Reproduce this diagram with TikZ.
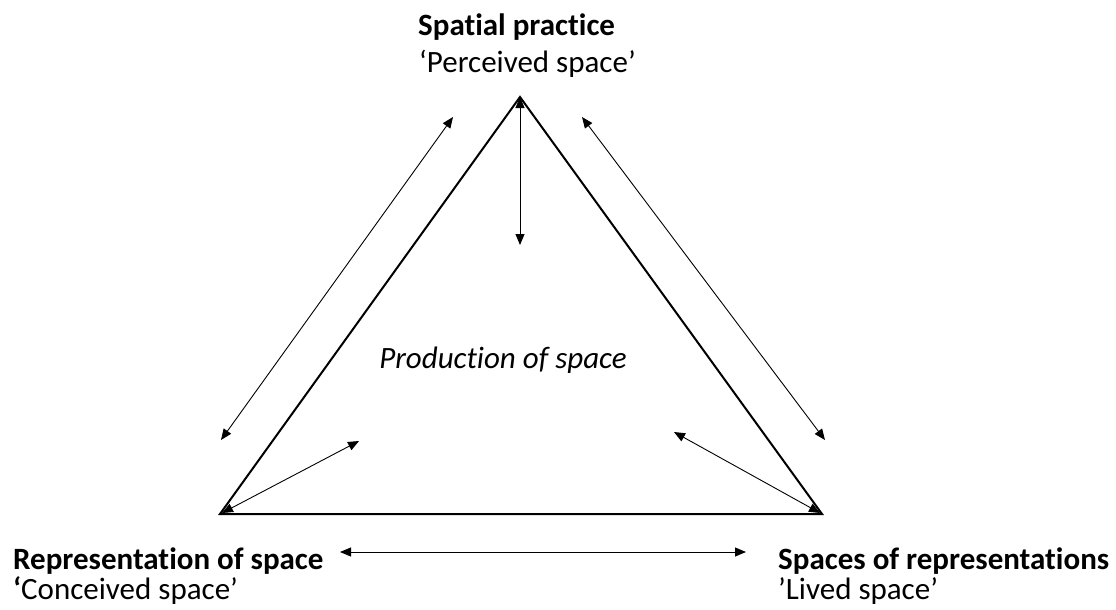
\documentclass[tikz,border=0pt]{standalone}
\usepackage{fontspec}
\setmainfont{Carlito}[Ligatures=NoCommon]
\usetikzlibrary{arrows.meta}
\begin{document}
\begin{tikzpicture}[x=1pt,y=-1pt,
  side/.style={line width=2pt,line join=miter},
  link/.style={line width=0.9pt,{Triangle[length=11pt,width=9pt]}-{Triangle[length=11pt,width=9pt]}},
  lbl/.style={anchor=base west,inner sep=0pt,font=\fontsize{31}{36}\selectfont},
  head/.style={lbl,font=\fontsize{31}{36}\selectfont\bfseries}]
\useasboundingbox (0,0) rectangle (1116,610);
% corners of the triangle
\coordinate (top) at (520,97);
\coordinate (bl) at (220,514);
\coordinate (br) at (822,514);
\draw[side] (top) -- (br) -- (bl) -- cycle;
% free ends of the connectors
\coordinate (vtop) at (520,97);
\coordinate (vbot) at (520,245);
\coordinate (lo1) at (453,117);
\coordinate (lo2) at (221,440);
\coordinate (ro1) at (582,117);
\coordinate (ro2) at (825,440);
\coordinate (li1) at (222,513);
\coordinate (li2) at (359,441);
\coordinate (ri1) at (820,513);
\coordinate (ri2) at (674,432);
\coordinate (h1) at (340,552);
\coordinate (h2) at (746,552);
\draw[link] (vtop) -- (vbot);
\draw[link] (lo1) -- (lo2);
\draw[link] (ro1) -- (ro2);
\draw[link] (li1) -- (li2);
\draw[link] (ri1) -- (ri2);
\draw[link] (h1) -- (h2);
% labels
\node[head] (sp) at (418,36) {Spatial practice};
\node[lbl] (ps) at (419,73) {‘Perceived space’};
\node[head] (rs) at (13,569) {Representation of space};
\node[lbl] (cs) at (13,599) {\textbf{‘}Conceived space’};
\node[head] (sr) at (778,569) {Spaces of representations};
\node[lbl] (ls) at (778,599) {’Lived space’};
\node[lbl,anchor=base,font=\fontsize{31}{36}\selectfont\itshape] (prod) at (503,368) {Production of space};
\end{tikzpicture}
\end{document}
